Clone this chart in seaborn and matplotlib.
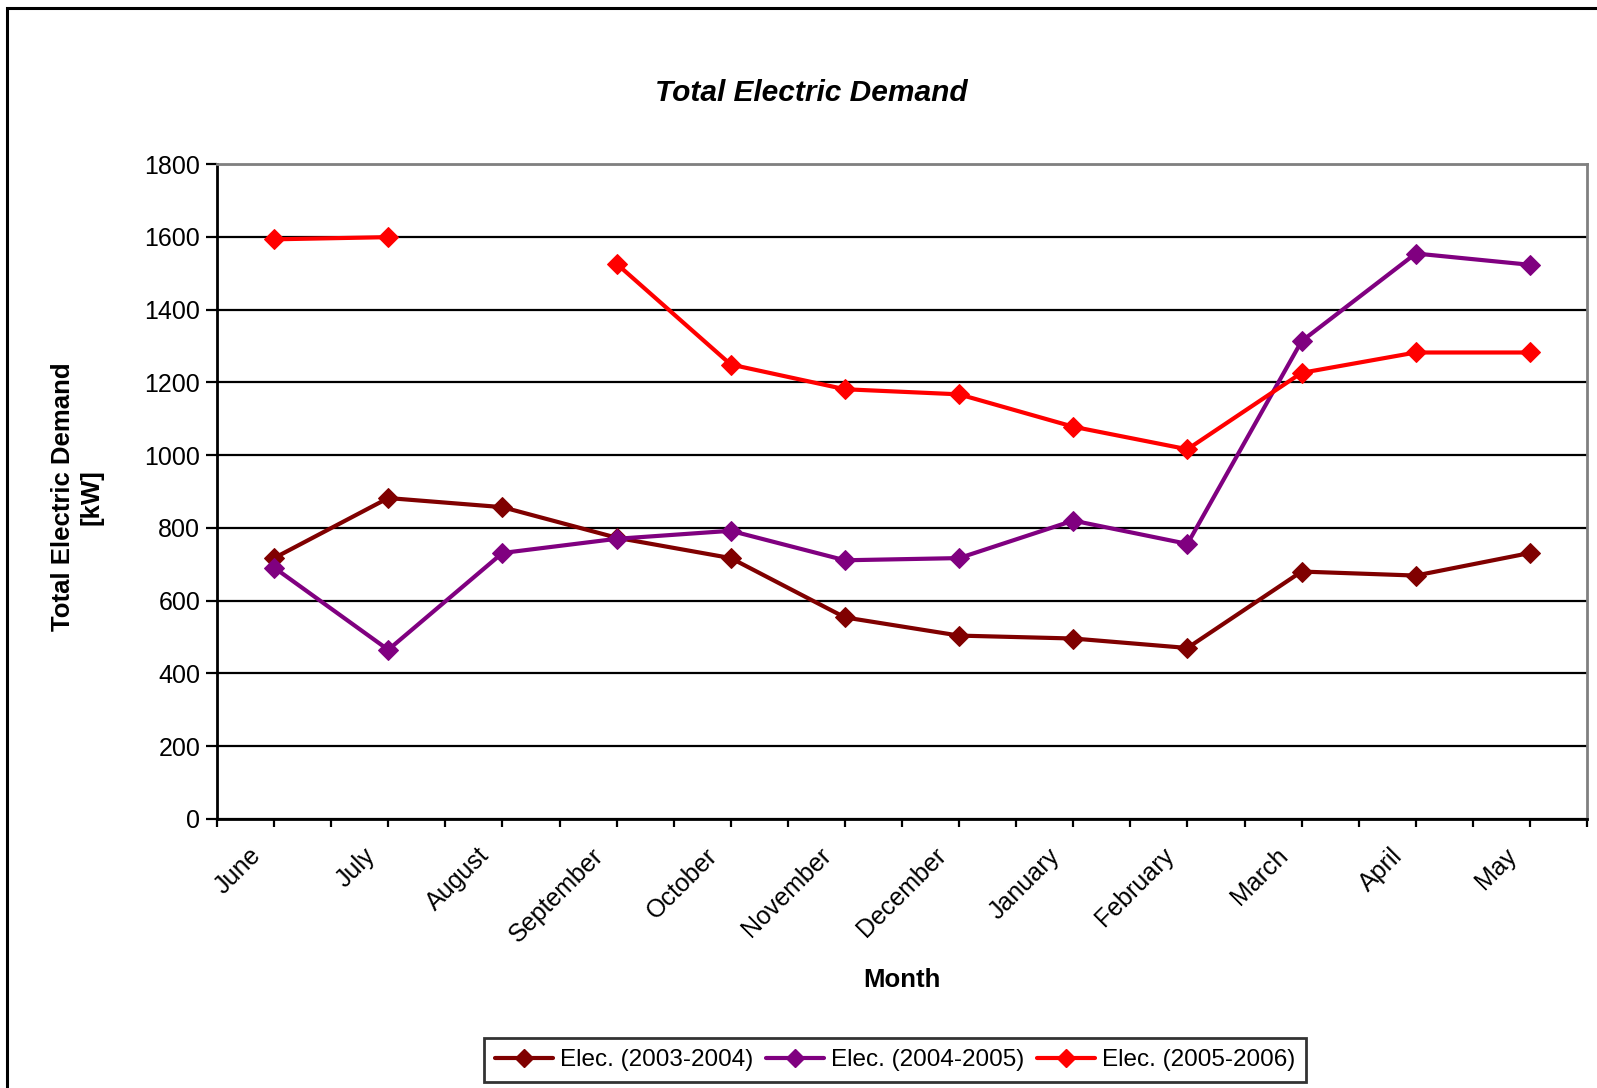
import matplotlib
matplotlib.use("Agg")
import matplotlib.pyplot as plt
import matplotlib.transforms as mtransforms
import numpy as np
import pandas as pd
import seaborn as sns
from matplotlib.patches import Rectangle
from matplotlib.lines import Line2D

months = ['June', 'July', 'August', 'September', 'October', 'November',
          'December', 'January', 'February', 'March', 'April', 'May']
elec_0304 = [717, 882, 857, 773, 717, 554, 504, 496, 470, 680, 669, 731]
elec_0405 = [691, 465, 731, 770, 792, 711, 717, 820, 756, 1313, 1554, 1523]
elec_0506 = [1593, 1599, np.nan, 1526, 1249, 1181, 1167, 1078, 1016, 1226, 1282, 1282]
series_names = ['Elec. (2003-2004)', 'Elec. (2004-2005)', 'Elec. (2005-2006)']
colors = ['#800000', '#800080', '#FF0000']
yticks = [0, 200, 400, 600, 800, 1000, 1200, 1400, 1600, 1800]

# long table, with a segment id so gaps (missing months) break the line
rows = []
for name, vals in zip(series_names, [elec_0304, elec_0405, elec_0506]):
    seg = 0
    for i, v in enumerate(vals):
        if np.isnan(v):
            seg += 1
            continue
        rows.append({'pos': i, 'demand': v, 'series': name, 'seg': seg})
df = pd.DataFrame(rows)

sns.set_style('white')
plt.rcParams['font.family'] = ['Liberation Sans', 'DejaVu Sans']
plt.rcParams['text.color'] = 'black'
plt.rcParams['xtick.color'] = 'black'
plt.rcParams['ytick.color'] = 'black'

fig = plt.figure(figsize=(15.97, 10.88), dpi=100)
ax = fig.add_axes([217 / 1597, 1 - 819 / 1088, 1370 / 1597, 655 / 1088])

for name, col in zip(series_names, colors):
    sub = df[df['series'] == name]
    sns.lineplot(data=sub, x='pos', y='demand', units='seg', estimator=None,
                 color=col, lw=3, marker='D', markersize=10,
                 markeredgecolor=col, ax=ax, legend=False, zorder=3)

ax.set_xlim(-0.5, len(months) - 0.5)
ax.set_ylim(0, 1800)
ax.set_yticks(yticks)
ax.set_yticklabels([str(t) for t in yticks], fontsize=18)
ax.yaxis.grid(True, color='black', lw=1.6)
ax.set_axisbelow(True)

# tick marks every half category (boundaries and centres), labels drawn below
half = np.arange(-0.5, len(months), 0.5)
ax.set_xticks(half)
ax.set_xticklabels([''] * len(half))
ax.tick_params(axis='x', length=6, width=1.6, direction='out', bottom=True)
ax.tick_params(axis='y', length=8, width=1.6, direction='out',
               left=True, pad=4)
shift = mtransforms.ScaledTranslation(-0.17, -0.33, fig.dpi_scale_trans)
for i, m in enumerate(months):
    ax.text(i, 0, m, transform=ax.get_xaxis_transform() + shift,
            rotation=45, ha='right', va='center', rotation_mode='anchor',
            fontsize=18)
ax.set_xlabel('')
ax.set_ylabel('')

for s in ['left', 'bottom']:
    ax.spines[s].set_color('black')
    ax.spines[s].set_linewidth(2)
for s in ['top', 'right']:
    ax.spines[s].set_color('#808080')
    ax.spines[s].set_linewidth(2)

fig.text(811 / 1597, 1 - 93 / 1088, 'Total Electric Demand', ha='center',
         va='center', fontsize=21.5, fontweight='bold', fontstyle='italic')
fig.text(0.565, 0.099, 'Month', ha='center', va='center',
         fontsize=18.5, fontweight='bold')
fig.text(77 / 1597, 1 - 497 / 1088, 'Total Electric Demand\n[kW]',
         ha='center', va='center', rotation=90, fontsize=18.5,
         fontweight='bold', linespacing=1.25)

handles = [Line2D([], [], color=c, lw=3, marker='D', markersize=9,
                  markeredgecolor=c) for c in colors]
leg = fig.legend(handles, series_names, loc='center',
                 bbox_to_anchor=(895 / 1597, 1 - 1060 / 1088), ncol=3,
                 fontsize=17.5, frameon=True, fancybox=False,
                 handlelength=2.4, handletextpad=0.3, columnspacing=0.5,
                 borderpad=0.45)
leg.get_frame().set_edgecolor('black')
leg.get_frame().set_linewidth(2)

# outer chart frame (right/bottom edges run off the picture)
fig.patches.append(Rectangle((7 / 1597, -0.1), 1.2, 1.1 - 8 / 1088,
                             transform=fig.transFigure, fill=False,
                             edgecolor='black', lw=2.2))

fig.savefig('out.png', dpi=100)
